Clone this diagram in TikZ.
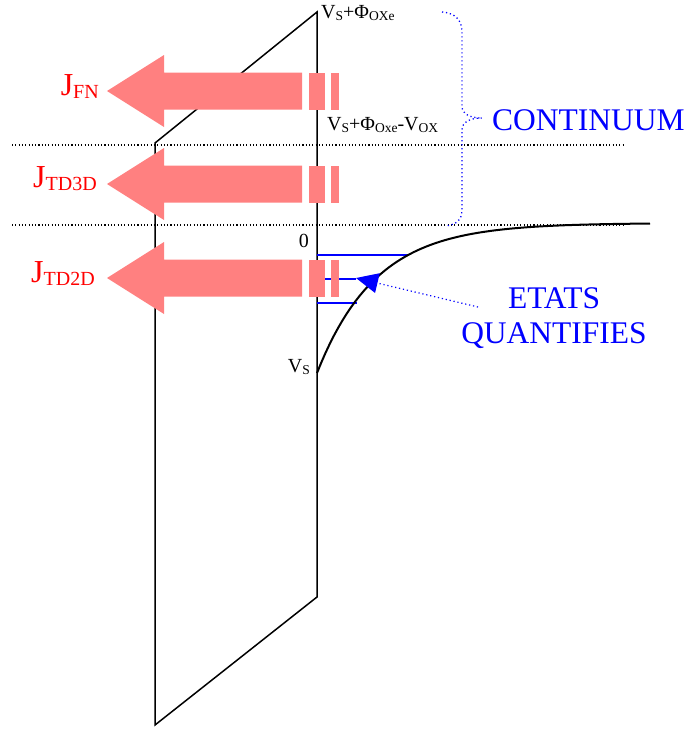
\documentclass[tikz,border=0pt]{standalone}
\usepackage{fontspec}
\setmainfont{Liberation Serif}
\usetikzlibrary{arrows.meta}
\definecolor{fluxred}{RGB}{255,128,128}
% lowered small subscript: \sbx{size}{text}
\newcommand{\sbx}[2]{\raisebox{-0.25ex}{\fontsize{#1}{#1}\selectfont #2}}
\tikzset{
  band/.style={draw=black, line width=1.5pt},
  lim/.style={draw=black, line width=1.3pt, dash pattern=on 1.1pt off 2.2pt},
  lvl/.style={draw=blue, line width=1.5pt},
  flux/.style={fill=fluxred, draw=none},
  jlbl/.style={text=red, font=\fontsize{32}{32}\selectfont, inner sep=0pt},
  vlbl/.style={text=black, font=\fontsize{20}{20}\selectfont, inner sep=0pt},
  blbl/.style={text=blue, font=\fontsize{31.5}{31.5}\selectfont, inner sep=0pt},
  brc/.style={draw=blue, line width=1.3pt, dash pattern=on 1.2pt off 2.8pt}
}

\begin{document}
\begin{tikzpicture}[x=1pt, y=-1pt]
    \useasboundingbox (0,0) rectangle (686,729);
    % oxide barrier
    \draw[band] (317,12) -- (317,597) -- (155,725) -- (155,143) -- cycle;
    \draw[lim] (12,145) -- (625,145);
    \draw[lim] (12,225) -- (625,225);
    % quantified levels
    \draw[lvl] (317,255) -- (408,255);
    \draw[lvl] (317,279) -- (356,279);
    \draw[lvl] (317,303) -- (357,303);
    % fluxes
    \foreach \yc in {91,184,278} {
      \fill[flux] (107,\yc) -- (164,\yc-36) -- (164,\yc-18.5) -- (302,\yc-18.5)
        -- (302,\yc+18.5) -- (164,\yc+18.5) -- (164,\yc+36) -- cycle;
      \fill[flux] (309,\yc-18.5) rectangle (325,\yc+18.5);
      \fill[flux] (331,\yc-18.5) rectangle (339,\yc+18.5);
    }
    % conduction band of the substrate
    \draw[black, line width=2pt] plot[domain=317:650, samples=80] (\x, {223+150*exp(-(\x-317)/59)});
    % continuum brace
    \draw[brc] (442,12) .. controls (455,13) and (462,20) .. (462,32) -- (462,106)
      .. controls (462,114) and (470,118) .. (482,118)
      .. controls (470,118) and (462,122) .. (462,130) -- (462,210)
      .. controls (462,220) and (456,225) .. (445,226);
    % labels
    \node[jlbl, anchor=base east] (jfn) at (99,95) {J\sbx{20}{FN}};
    \node[jlbl, anchor=base east] (jtd3) at (97,187) {J\sbx{20}{TD3D}};
    \node[jlbl, anchor=base east] (jtd2) at (95,282) {J\sbx{20}{TD2D}};
    \node[vlbl, anchor=base west] (vtop) at (321,18) {V\sbx{13.5}{S}+Φ\sbx{13.5}{OXe}};
    \node[vlbl, anchor=base west] (vmid) at (327,130) {V\sbx{13.5}{S}+Φ\sbx{13.5}{Oxe}-V\sbx{13.5}{OX}};
    \node[vlbl, anchor=base east] (zero) at (309,247) {0};
    \node[vlbl, anchor=base east] (vs) at (310,372) {V\sbx{13.5}{S}};
    \node[blbl, anchor=base west] (cont) at (492,130) {CONTINUUM};
    \node[blbl, anchor=base] (etats) at (554,308) {ETATS};
    \node[blbl, anchor=base] (quant) at (554,343) {QUANTIFIES};
    % pointer to the levels
    \coordinate (qtail) at (478,307);
    \coordinate (qtip) at (356,278);
    \draw[brc, line width=1.2pt, -{Triangle[length=22pt, width=20pt]}] (qtail) -- (qtip);
\end{tikzpicture}
\end{document}
